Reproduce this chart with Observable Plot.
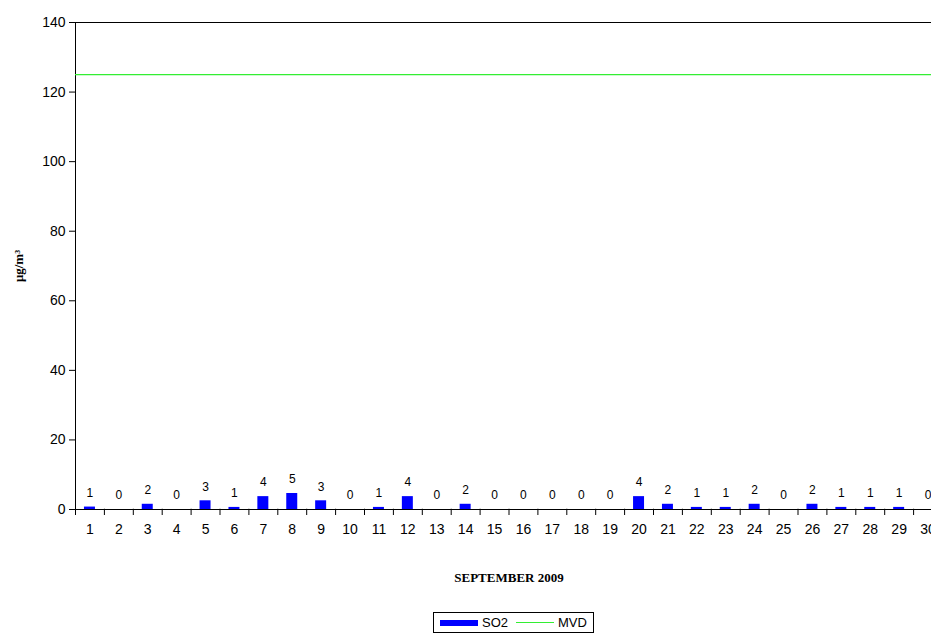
<!DOCTYPE html>
<html><head><meta charset="utf-8">
<script src="https://cdn.jsdelivr.net/npm/d3@7"></script>
<script src="https://cdn.jsdelivr.net/npm/@observablehq/plot@0.6"></script>
<style>
body{margin:0;background:#fff;overflow:hidden;font-family:"Liberation Sans",Arial,sans-serif}
#chart svg{max-width:none !important;width:960px;height:605px}
#legend{position:absolute;left:433px;top:612px;border:1px solid #000;padding:2px 6px;font-size:13px;display:flex;align-items:center;gap:4px;background:#fff}
</style></head><body>
<div id="chart"></div>
<div id="legend"><span style="display:inline-block;width:38px;height:6px;background:#0000ff"></span>SO2<span style="display:inline-block;width:38px;height:1px;background:#33ee33;margin-left:4px"></span>MVD</div>
<script>
const days = d3.range(1, 31);
const so2 = [0.7,0,1.5,0,2.5,0.6,3.7,4.6,2.5,0,0.6,3.7,0,1.5,0,0,0,0,0,3.7,1.5,0.6,0.6,1.5,0,1.5,0.6,0.6,0.6,0];
const MVD = 125;
const yTicks = [0, 20, 40, 60, 80, 100, 120, 140];

const rows = days.map((d, i) => ({day: d, v: so2[i]}));
const bounds = d3.range(0.5, 31, 1);

const plot = Plot.plot({
  width: 960, height: 605,
  marginLeft: 75, marginRight: 18, marginTop: 22, marginBottom: 96,
  x: {type: "linear", domain: [0.5, 30.5], axis: null},
  y: {type: "linear", domain: [0, 140], axis: null},
  style: {fontFamily: '"Liberation Sans", Arial, sans-serif', fontSize: 13, color: "#000", background: "#fff"},
  marks: [
    Plot.ruleY([140], {stroke: "#000"}),
    Plot.ruleX([0.5], {stroke: "#000"}),
    Plot.ruleY([0], {stroke: "#000"}),
    Plot.axisY({ticks: yTicks, tickSize: 6, tickPadding: 4, fontSize: 14, anchor: "left", label: null}),
    Plot.ruleY([MVD], {stroke: "#33ee33", strokeWidth: 1.2}),
    Plot.rectY(rows, {x1: d => d.day - 0.19, x2: d => d.day + 0.19, y: "v", fill: "#0000ff"}),
    Plot.text(rows, {x: "day", y: "v", text: d => String(Math.round(d.v)), dy: -14, fontSize: 12, fill: "#000"}),
    Plot.ruleX(bounds, {y1: 0, y2: 1.8, dy: 6, stroke: "#000"}),
    Plot.text(days, {x: d => d, y: 0, text: d => String(d), dy: 20, fontSize: 14, fill: "#000"}),
    Plot.text(["SEPTEMBER 2009"], {x: 15.5, y: 0, dy: 68, fontFamily: '"Liberation Serif", serif', fontWeight: "bold", fontSize: 13, fill: "#000"}),
    Plot.text(["μg/m³"], {x: 0.5, y: 70, dx: -57, rotate: -90, fontFamily: '"Liberation Serif", serif', fontWeight: "bold", fontSize: 13, fill: "#000"})
  ]
});
document.getElementById("chart").append(plot);
</script>
</body></html>
